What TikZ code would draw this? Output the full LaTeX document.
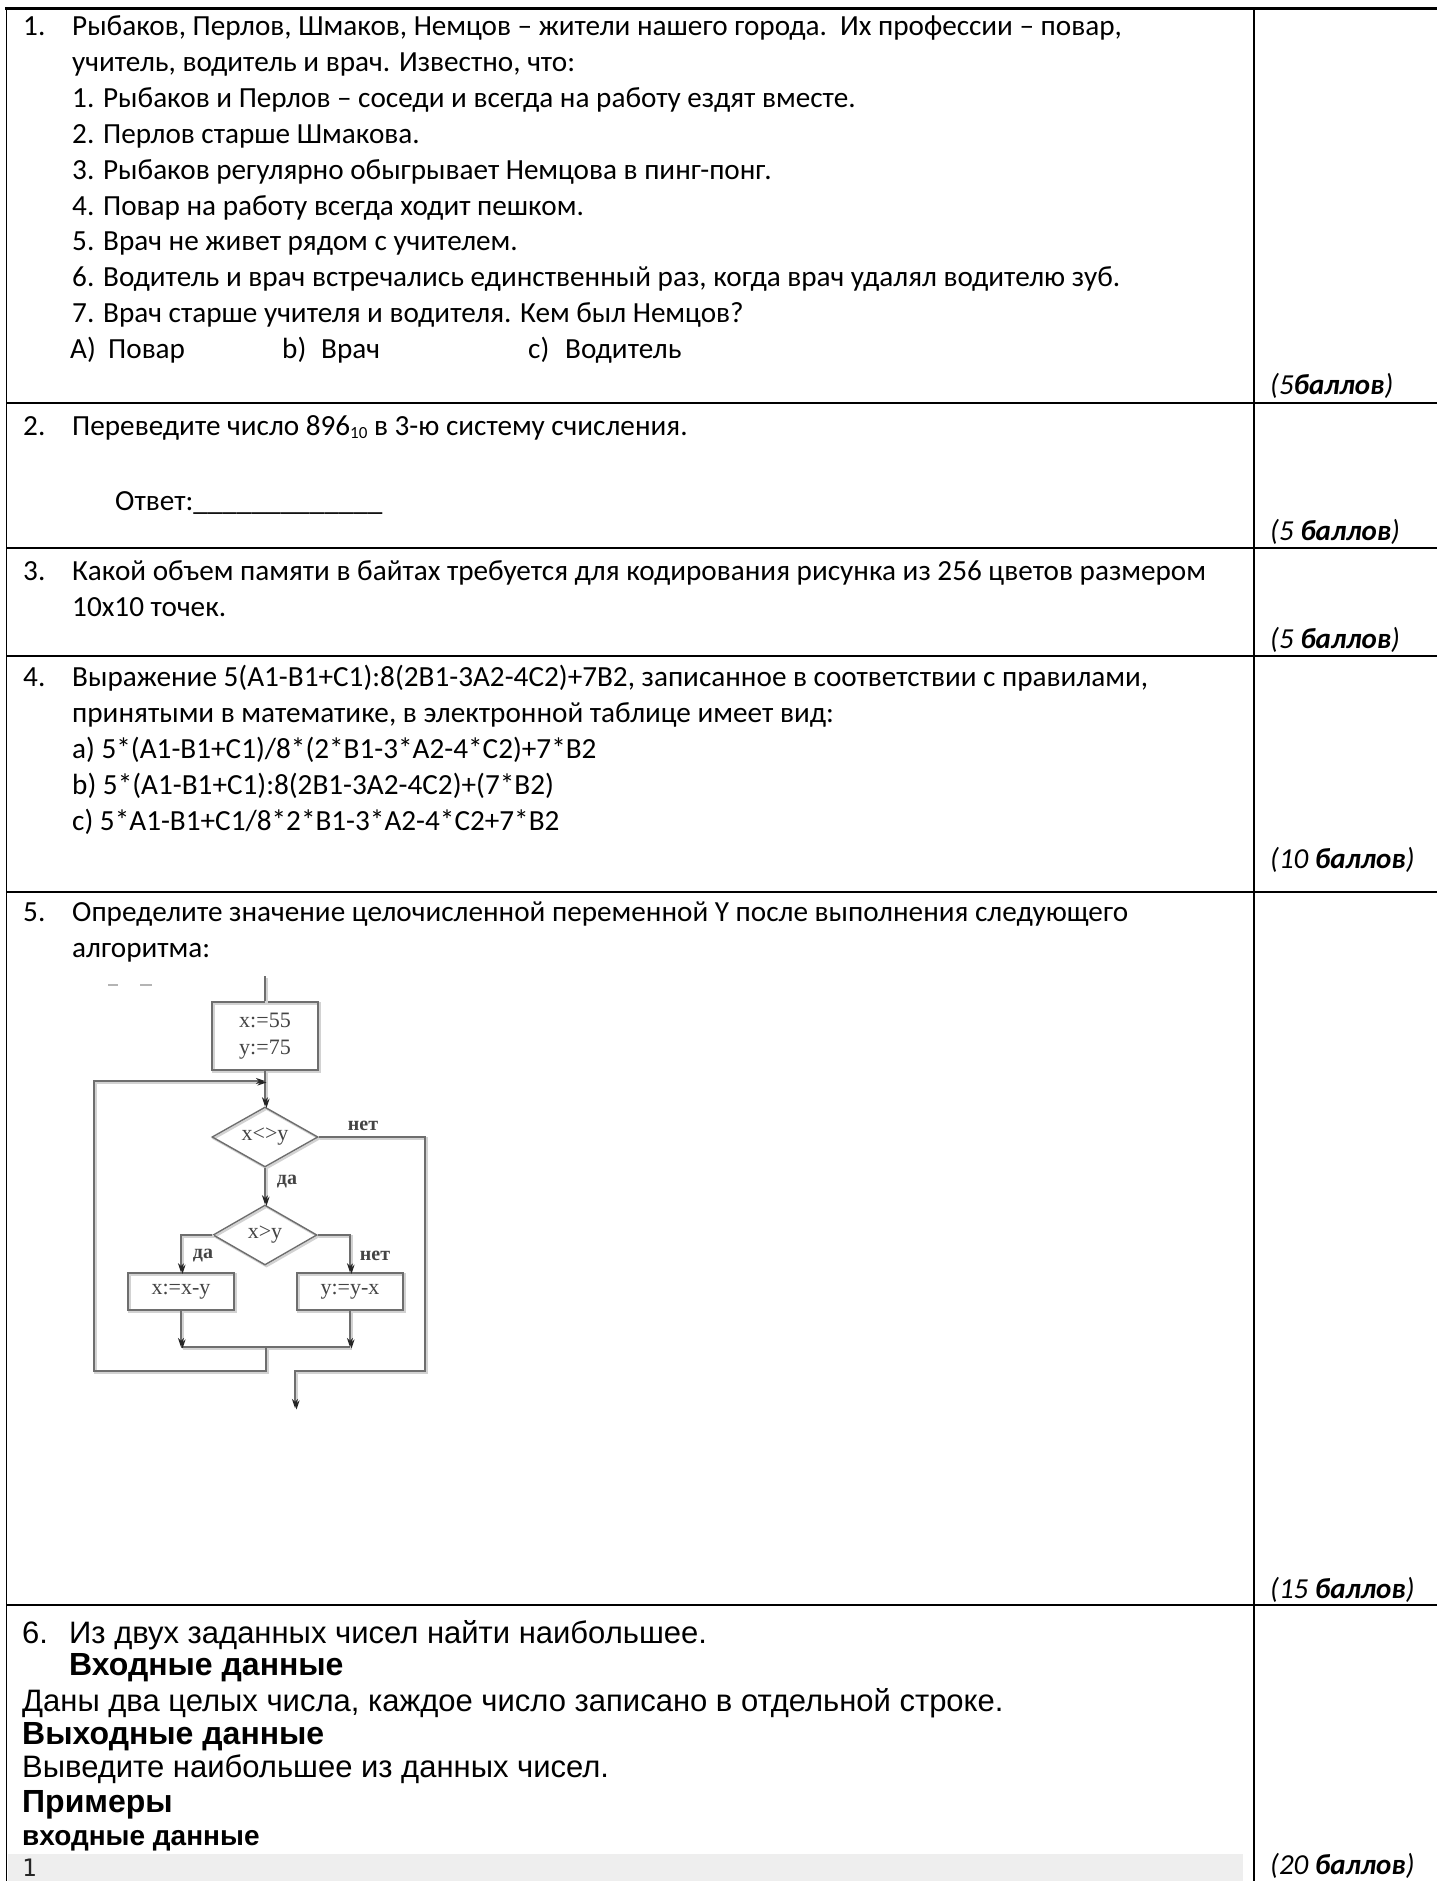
\documentclass[tikz,border=0pt]{standalone}
\usepackage{fontspec}
\setmainfont{Carlito}
\newfontfamily\arialf{Liberation Sans}
\newfontfamily\monof{DejaVu Sans Mono}
\newfontfamily\fcserif{Liberation Serif}
\usetikzlibrary{shapes.geometric,arrows.meta}
\definecolor{fcline}{HTML}{6E6E6E}
\definecolor{fcshadow}{HTML}{D2D2D2}
\definecolor{fctext}{HTML}{444444}
\definecolor{bandgray}{HTML}{EEEEEE}
\tikzset{
  txt/.style={anchor=base west, inner sep=0pt, font=\fontsize{29.2}{35.6}\selectfont},
  pts/.style={anchor=base west, inner sep=0pt, font=\fontsize{29}{35}\selectfont\itshape},
  atxt/.style={anchor=base west, inner sep=0pt, font=\arialf\fontsize{31}{37}\selectfont},
  abold/.style={anchor=base west, inner sep=0pt, font=\arialf\bfseries\fontsize{#1}{36}\selectfont},
  mtxt/.style={anchor=base west, inner sep=0pt, text=black!85, font=\monof\fontsize{24}{28}\selectfont},
  hrule/.style={line width=2.2pt, black},
  vrule/.style={line width=1.8pt, black},
  shadowed/.style={preaction={draw=fcshadow, line width=2.2pt, transform canvas={shift={(1.5pt,-1.5pt)}}}},
  fcbox/.style={rectangle, draw=fcline, line width=1.4pt, inner sep=0pt, text=fctext,
    font=\fcserif\fontsize{22}{27}\selectfont, align=center, shadowed},
  fcdia/.style={diamond, aspect=1.77, draw=fcline, line width=1.4pt, inner sep=0pt, text=fctext,
    font=\fcserif\fontsize{22}{27}\selectfont, shadowed},
  fcl/.style={draw=fcline, line width=1.4pt, shadowed},
  fcarrow/.style={-{Stealth[length=9pt,width=6pt,color=black!85]}},
  fclab/.style={inner sep=0pt, text=fctext, font=\fcserif\bfseries\fontsize{20}{24}\selectfont},
}
\begin{document}
\begin{tikzpicture}[x=1pt,y=-1pt]
\useasboundingbox (0,0) rectangle (1437,1881);
\fill[white] (0,0) rectangle (1437,1881);
% gray band of the example
\fill[bandgray] (8,1854) rectangle (1243,1881);
% table rules
\draw[hrule] (5.4,8.5) -- (1437,8.5);
\draw[vrule] (6.5,8.5) -- (6.5,1881);
\draw[vrule] (1254,8.5) -- (1254,1881);
\draw[hrule] (6.5,403) -- (1437,403);
\draw[hrule] (6.5,548) -- (1437,548);
\draw[hrule] (6.5,656) -- (1437,656);
\draw[hrule] (6.5,892) -- (1437,892);
\draw[hrule] (6.5,1605) -- (1437,1605);

% row 1
\node[txt] (q1n) at (23,36) {1.};
\node[txt] (q1a) at (72,36) {Рыбаков, Перлов, Шмаков, Немцов – жители нашего города.\ \ Их профессии – повар,};
\node[txt] (q1b) at (72,71.8) {учитель, водитель и врач. Известно, что:};
\node[txt] (q1c) at (72,107.6) {1. Рыбаков и Перлов – соседи и всегда на работу ездят вместе.};
\node[txt] (q1d) at (72,143.4) {2. Перлов старше Шмакова.};
\node[txt] (q1e) at (72,179.2) {3. Рыбаков регулярно обыгрывает Немцова в пинг-понг.};
\node[txt] (q1f) at (72,215) {4. Повар на работу всегда ходит пешком.};
\node[txt] (q1g) at (72,250.8) {5. Врач не живет рядом с учителем.};
\node[txt] (q1h) at (72,286.6) {6. Водитель и врач встречались единственный раз, когда врач удалял водителю зуб.};
\node[txt] (q1i) at (72,322.4) {7. Врач старше учителя и водителя. Кем был Немцов?};
\node[txt] (q1ja) at (70,358.2) {A)};
\node[txt] (q1jb) at (108,358.2) {Повар};
\node[txt] (q1jc) at (282,358.2) {b)};
\node[txt] (q1jd) at (321,358.2) {Врач};
\node[txt] (q1je) at (528,358.2) {c)};
\node[txt] (q1jf) at (565,358.2) {Водитель};
\node[pts] (p1) at (1270,394) {(5\textbf{баллов})};

% row 2
\node[txt] (q2n) at (23,435) {2.};
\node[txt] (q2a) at (72,435) {Переведите число 896\raisebox{-3pt}{\fontsize{17}{17}\selectfont 10} в 3-ю систему счисления.};
\node[txt] (q2b) at (115,510) {Ответ:\_\_\_\_\_\_\_\_\_\_\_\_\_};
\node[pts] (p2) at (1270,540) {(5 \textbf{баллов})};

% row 3
\node[txt] (q3n) at (23,580) {3.};
\node[txt] (q3a) at (72,580) {Какой объем памяти в байтах требуется для кодирования рисунка из 256 цветов размером};
\node[txt] (q3b) at (72,616) {10x10 точек.};
\node[pts] (p3) at (1270,648) {(5 \textbf{баллов})};

% row 4
\node[txt] (q4n) at (23,686) {4.};
\node[txt] (q4a) at (72,686) {Выражение 5(A1-B1+C1):8(2B1-3A2-4C2)+7B2, записанное в соответствии с правилами,};
\node[txt] (q4b) at (72,722) {принятыми в математике, в электронной таблице имеет вид:};
\node[txt] (q4c) at (72,758) {a) 5*(A1-B1+C1)/8*(2*B1-3*A2-4*C2)+7*B2};
\node[txt] (q4d) at (72,794) {b) 5*(A1-B1+C1):8(2B1-3A2-4C2)+(7*B2)};
\node[txt] (q4e) at (72,830) {c) 5*A1-B1+C1/8*2*B1-3*A2-4*C2+7*B2};
\node[pts] (p4) at (1270,868) {(10 \textbf{баллов})};

% row 5
\node[txt] (q5n) at (23,921) {5.};
\node[txt] (q5a) at (72,921) {Определите значение целочисленной переменной Y после выполнения следующего};
\node[txt] (q5b) at (72,957) {алгоритма:};
\node[pts] (p5) at (1270,1598) {(15 \textbf{баллов})};

% flowchart
\draw[line width=1.4pt, fcshadow!70!fcline] (108,985) -- (118,985);
\draw[line width=1.4pt, fcshadow!70!fcline] (140,985) -- (152,985);
\node[fcbox, minimum width=106pt, minimum height=68pt] (b1) at (265,1036) {x:=55\\y:=75};
\node[fcdia, minimum width=106pt, minimum height=60pt] (d1) at (265,1137) {x<>y};
\node[fcdia, minimum width=104pt, minimum height=60pt] (d2) at (265,1235) {x>y};
\node[fcbox, minimum width=106pt, minimum height=37pt] (b2) at (181,1291.5) {x:=x-y};
\node[fcbox, minimum width=106pt, minimum height=37pt] (b3) at (350,1291.5) {y:=y-x};
\coordinate (top) at (265,976);
\coordinate (j1) at (265,1081);
\coordinate (lp) at (94,1081);
\coordinate (lpb) at (94,1371);
\coordinate (mid) at (266,1347);
\coordinate (midb) at (266,1371);
\coordinate (m1) at (181,1347);
\coordinate (m2) at (350,1347);
\coordinate (r1) at (425,1137);
\coordinate (r2) at (425,1371);
\coordinate (ex) at (295,1371);
\coordinate (exend) at (295,1408);
\coordinate (l2) at (181,1235);
\coordinate (r3) at (350,1235);
\draw[fcl] (top) -- (b1.north);
\draw[fcl,fcarrow] (b1.south) -- (d1.north);
\draw[fcl] (m1) -- (m2);
\draw[fcl,fcarrow] (mid) -- (midb) -- (lpb) -- (lp) -- (j1);
\draw[fcl,fcarrow] (d1.east) -- (r1) -- (r2) -- (ex) -- (exend);
\draw[fcl,fcarrow] (d1.south) -- (d2.north);
\draw[fcl,fcarrow] (d2.west) -- (l2) -- (b2.north);
\draw[fcl,fcarrow] (d2.east) -- (r3) -- (b3.north);
\draw[fcl,fcarrow] (b2.south) -- (m1);
\draw[fcl,fcarrow] (b3.south) -- (m2);
\node[fclab] (no1) at (363,1126) {нет};
\node[fclab] (yes1) at (287,1182) {да};
\node[fclab] (yes2) at (203,1256) {да};
\node[fclab] (no2) at (375,1256) {нет};

% row 6
\node[atxt] (q6n) at (22,1643) {6.};
\node[atxt] (q6a) at (69,1643) {Из двух заданных чисел найти наибольшее.};
\node[abold=32] (q6b) at (69,1675) {Входные данные};
\node[atxt] (q6c) at (22,1711) {Даны два целых числа, каждое число записано в отдельной строке.};
\node[abold=32] (q6d) at (22,1744) {Выходные данные};
\node[atxt] (q6e) at (22,1777) {Выведите наибольшее из данных чисел.};
\node[abold=32] (q6f) at (22,1812) {Примеры};
\node[abold=28] (q6g) at (22,1845) {входные данные};
\node[mtxt] (q6h) at (22,1876) {1};
\node[pts] (p6) at (1270,1874) {(20 \textbf{баллов})};
\end{tikzpicture}
\end{document}
